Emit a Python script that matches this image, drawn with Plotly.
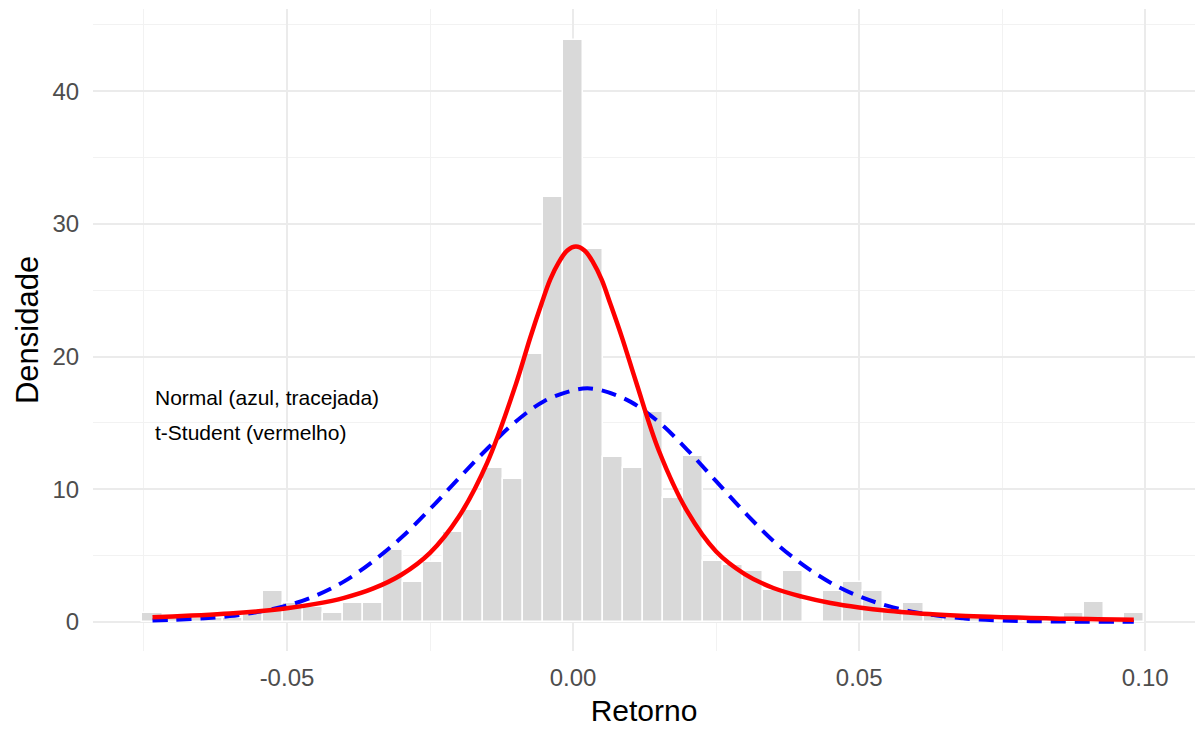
import plotly.graph_objects as go

# Histogram (density) - bin centers and heights
bin_width = 0.0035
bin_index = list(range(-21, 29))
bin_centers = [k * bin_width for k in bin_index]
densities = [
    0.65, 0.3, 0.3, 0.3, 0.3, 0.65, 2.3, 1.4, 1.15, 0.65,
    1.45, 1.45, 5.4, 3.0, 4.5, 6.8, 8.4, 11.6, 10.8, 20.2,
    32.0, 43.9, 28.1, 12.4, 11.6, 15.8, 9.3, 12.5, 4.6, 4.3,
    3.8, 2.4, 3.8, 0.0, 2.3, 3.0, 2.3, 1.0, 1.45, 0.5,
    0.3, 0.3, 0.0, 0.3, 0.3, 0.0, 0.65, 1.5, 0.0, 0.65,
]

# Fitted Normal curve (blue, dashed)
normal_x = [-0.0735, -0.07, -0.065, -0.06, -0.055, -0.05, -0.045, -0.04, -0.035,
            -0.03, -0.025, -0.02, -0.015, -0.01, -0.005, 0.0, 0.0025, 0.005,
            0.01, 0.015, 0.02, 0.025, 0.03, 0.035, 0.04, 0.045, 0.05, 0.055,
            0.06, 0.065, 0.07, 0.075, 0.08, 0.085, 0.09, 0.095, 0.098]
normal_y = [0.1, 0.15, 0.25, 0.43, 0.75, 1.22, 1.97, 3.05, 4.55,
            6.35, 8.5, 10.8, 13.05, 15.1, 16.65, 17.45, 17.6, 17.45,
            16.6, 15.05, 12.95, 10.6, 8.25, 6.1, 4.35, 2.95, 1.92, 1.2,
            0.7, 0.4, 0.2, 0.1, 0.05, 0.02, 0.01, 0.0, 0.0]

# Fitted t-Student curve (red)
t_x = [-0.0735, -0.07, -0.065, -0.06, -0.055, -0.05, -0.045, -0.04, -0.035,
       -0.03, -0.025, -0.02, -0.015, -0.01, -0.0075, -0.0055, -0.004, -0.0025,
       -0.001, 0.0005, 0.002, 0.0035, 0.005, 0.0065, 0.0085, 0.011, 0.015,
       0.02, 0.025, 0.03, 0.035, 0.04, 0.045, 0.05, 0.055, 0.06, 0.065,
       0.07, 0.075, 0.08, 0.085, 0.09, 0.095, 0.098]
t_y = [0.35, 0.41, 0.5, 0.62, 0.79, 1.02, 1.35, 1.81, 2.5,
       3.55, 5.2, 7.9, 12.0, 17.9, 21.4, 24.0, 25.8, 27.1,
       28.0, 28.3, 28.0, 27.1, 25.8, 24.0, 21.5, 18.1, 12.9,
       8.3, 5.3, 3.6, 2.55, 1.9, 1.42, 1.08, 0.83, 0.65, 0.52,
       0.42, 0.35, 0.29, 0.24, 0.21, 0.18, 0.16]

x_ticks = [-0.05, 0.0, 0.05, 0.10]
x_tick_text = ["-0.05", "0.00", "0.05", "0.10"]
y_ticks = [0, 10, 20, 30, 40]

label_normal = "Normal (azul, tracejada)"
label_t = "t-Student (vermelho)"

FONT = "Liberation Sans, Arial"

fig = go.Figure()
fig.add_trace(go.Bar(
    x=bin_centers, y=densities, width=bin_width,
    marker=dict(color="#D9D9D9", line=dict(color="white", width=1.5)),
    hoverinfo="x+y", showlegend=False,
))
fig.add_trace(go.Scatter(
    x=normal_x, y=normal_y, mode="lines",
    line=dict(color="#0000FF", width=4, dash="15px,9px", shape="spline", smoothing=1.0),
    showlegend=False,
))
fig.add_trace(go.Scatter(
    x=t_x, y=t_y, mode="lines",
    line=dict(color="#FF0000", width=4.5, shape="spline", smoothing=1.0),
    showlegend=False,
))

fig.add_annotation(x=-0.0734, y=16.9, xref="x", yref="y", text=label_normal,
                   showarrow=False, xanchor="left", yanchor="middle",
                   font=dict(family=FONT, size=21, color="#000000"))
fig.add_annotation(x=-0.0734, y=14.3, xref="x", yref="y", text=label_t,
                   showarrow=False, xanchor="left", yanchor="middle",
                   font=dict(family=FONT, size=21, color="#000000"))

fig.update_layout(
    width=1199, height=729,
    margin=dict(l=93, r=4, t=9, b=78),
    paper_bgcolor="white", plot_bgcolor="white",
    bargap=0,
    font=dict(family=FONT, color="#4D4D4D"),
)
fig.update_xaxes(
    range=[-0.0839, 0.1087],
    tickvals=x_ticks, ticktext=x_tick_text,
    tickfont=dict(size=24, color="#4D4D4D"),
    showgrid=True, gridcolor="#EBEBEB", gridwidth=1.6,
    minor=dict(dtick=0.05, tick0=0.025, showgrid=True, gridcolor="#F2F2F2", gridwidth=1),
    zeroline=False, showline=False,
    ticks="outside", ticklen=5, tickcolor="rgba(0,0,0,0)",
    title=dict(text="Retorno", font=dict(size=30, color="#000000"), standoff=10),
)
fig.update_yaxes(
    range=[-2.2, 46.2],
    tickvals=y_ticks,
    tickfont=dict(size=24, color="#4D4D4D"),
    showgrid=True, gridcolor="#EBEBEB", gridwidth=1.6,
    minor=dict(dtick=10, tick0=5, showgrid=True, gridcolor="#F2F2F2", gridwidth=1),
    zeroline=False, showline=False,
    ticks="outside", ticklen=8, tickcolor="rgba(0,0,0,0)",
    title=dict(text="Densidade", font=dict(size=31, color="#000000"), standoff=4),
)

fig.write_html("out.html")
